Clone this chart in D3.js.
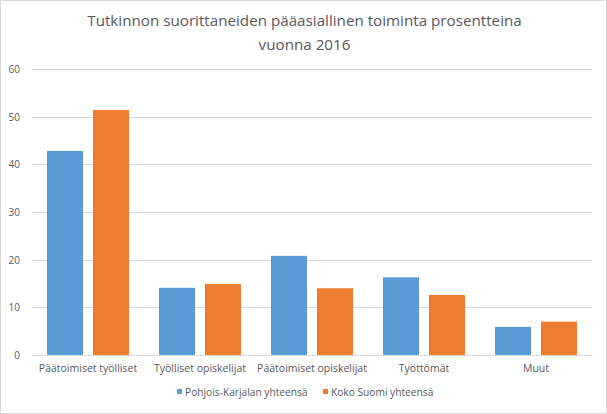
<!DOCTYPE html>
<html><head><meta charset="utf-8">
<script src="https://cdn.jsdelivr.net/npm/d3@7"></script>
<style>body{margin:0;background:#fff}svg{display:block}</style>
</head><body>
<script>
const categories = ["Päätoimiset työlliset","Työlliset opiskelijat","Päätoimiset opiskelijat","Työttömät","Muut"];
const seriesNames = ["Pohjois-Karjalan yhteensä","Koko Suomi yhteensä"];
const pohjoisKarjala = [42.8, 14.1, 20.8, 16.3, 5.9];
const kokoSuomi = [51.4, 14.9, 14.0, 12.6, 7.0];
const yTicks = [0,10,20,30,40,50,60];
const titleLines = ["Tutkinnon suorittaneiden pääasiallinen toiminta prosentteina","vuonna 2016"];
const colors = ["#5b9bd5","#ed7d31"];

const W=607,H=414;
const svg=d3.select("body").append("svg").attr("width",W).attr("height",H);
svg.append("rect").attr("x",0.5).attr("y",0.5).attr("width",W-1).attr("height",H-1).attr("fill","#fff").attr("stroke","#d9d9d9");
const font="Open Sans, sans-serif";
const m={l:32,r:15,t:69,b:59};
const x=d3.scaleBand().domain(categories).range([m.l,W-m.r]);
const y=d3.scaleLinear().domain([0,60]).range([H-m.b,m.t]);

svg.selectAll(".title").data(titleLines).enter().append("text")
 .attr("x",W/2+1).attr("y",(d,i)=>26+i*24).attr("text-anchor","middle")
 .attr("font-family",font).attr("font-size",15.2).attr("fill","#595959").text(d=>d);

const g=svg.append("g");
g.selectAll(".grid").data(yTicks).enter().append("line")
 .attr("x1",m.l).attr("x2",W-m.r).attr("y1",d=>Math.round(y(d))+0.5).attr("y2",d=>Math.round(y(d))+0.5)
 .attr("stroke","#d9d9d9").attr("stroke-width",1);
g.selectAll(".yl").data(yTicks).enter().append("text")
 .attr("x",20).attr("y",d=>y(d)+4).attr("text-anchor","end")
 .attr("font-family",font).attr("font-size",10).attr("fill","#595959").text(d=>d);

const data=[pohjoisKarjala,kokoSuomi];
const bw=36, gap=10;
data.forEach((vals,si)=>{
  g.selectAll(".b"+si).data(vals).enter().append("rect")
   .attr("x",(d,i)=>x(categories[i])+x.bandwidth()/2+(si===0?-gap/2-bw:gap/2))
   .attr("width",bw)
   .attr("y",d=>y(d)).attr("height",d=>y(0)-y(d)).attr("fill",colors[si]);
});

g.selectAll(".xl").data(categories).enter().append("text")
 .attr("x",d=>x(d)+x.bandwidth()/2).attr("y",y(0)+17).attr("text-anchor","middle")
 .attr("font-family",font).attr("font-size",10.5).attr("fill","#595959").text(d=>d);

const leg=svg.append("g");
const legX=[177,323];
seriesNames.forEach((n,i)=>{
  leg.append("rect").attr("x",legX[i]).attr("y",389).attr("width",5).attr("height",5).attr("fill",colors[i]);
  leg.append("text").attr("x",legX[i]+8).attr("y",396).attr("font-family",font).attr("font-size",10.2).attr("fill","#595959").text(n);
});
</script>
</body></html>
